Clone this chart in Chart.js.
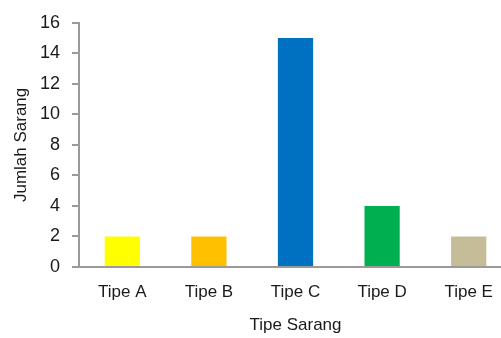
<!DOCTYPE html>
<html>
<head>
<meta charset="utf-8">
<script src="https://cdn.jsdelivr.net/npm/chart.js@4/dist/chart.umd.min.js"></script>
<style>
  html, body { margin: 0; padding: 0; background: #fff; overflow: hidden; }
  #wrap { width: 512px; height: 338px; }
</style>
</head>
<body>
<div id="wrap"><canvas id="c" width="512" height="338"></canvas></div>
<script>
// Jumlah sarang per tipe
const categories = ['Tipe A', 'Tipe B', 'Tipe C', 'Tipe D', 'Tipe E'];
const nestCounts = [2, 2, 15, 4, 2];
const barColors = ['#FFFF00', '#FFC000', '#0070C0', '#00B050', '#C4BD97'];
const yTicks = [0, 2, 4, 6, 8, 10, 12, 14, 16];

const FONT = '"Liberation Sans", Arial, sans-serif';
const SIZE = 17;
const TEXT = '#1a1a1a';
const AXIS = '#9a9a9a';

new Chart(document.getElementById('c'), {
  type: 'bar',
  data: {
    labels: categories,
    datasets: [{
      data: nestCounts,
      backgroundColor: barColors,
      borderWidth: 0,
      barPercentage: 1,
      categoryPercentage: 0.407
    }]
  },
  options: {
    responsive: false,
    animation: false,
    devicePixelRatio: 1,
    layout: { padding: { top: 6, right: 0, bottom: 0, left: 0 } },
    plugins: { legend: { display: false }, tooltip: { enabled: false } },
    scales: {
      x: {
        afterFit: (scale) => { scale.height = 71; },
        grid: { display: false, drawTicks: false },
        border: { display: true, color: AXIS, width: 2 },
        ticks: { color: TEXT, font: { family: FONT, size: SIZE }, padding: 15 },
        title: {
          display: true, text: 'Tipe Sarang', color: TEXT,
          font: { family: FONT, size: SIZE }, padding: { top: 4, bottom: 2.8 }
        }
      },
      y: {
        min: 0, max: 16,
        afterBuildTicks: (scale) => { scale.ticks = yTicks.map(v => ({ value: v })); },
        afterFit: (scale) => { scale.width = 79; },
        grid: { drawOnChartArea: false, drawTicks: true, tickLength: 7, color: AXIS, lineWidth: 2 },
        border: { display: true, color: AXIS, width: 2 },
        ticks: { color: TEXT, font: { family: FONT, size: SIZE + 1 }, padding: 12 },
        title: {
          display: true, text: 'Jumlah Sarang', color: TEXT,
          font: { family: FONT, size: SIZE }, padding: { top: 11, bottom: 0 }
        }
      }
    }
  }
});
</script>
</body>
</html>
